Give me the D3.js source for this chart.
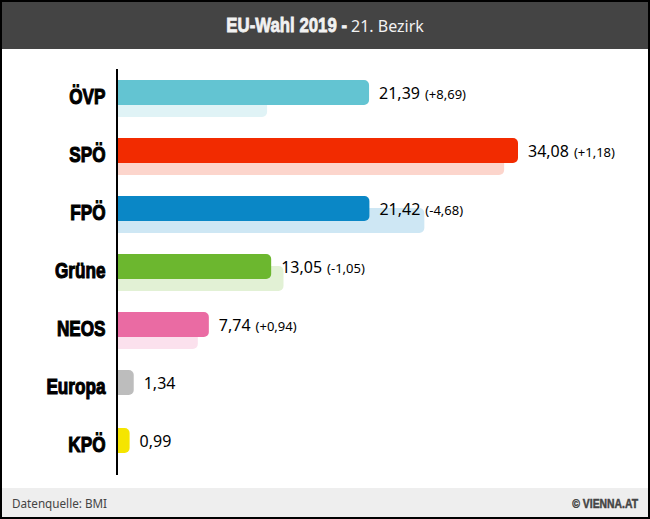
<!DOCTYPE html>
<html><head><meta charset="utf-8">
<script src="https://cdn.jsdelivr.net/npm/d3@7"></script>
<style>html,body{margin:0;padding:0;background:#fff}svg{display:block}</style>
</head><body><svg id="c" width="650" height="519"></svg>
<script>
const parties=["ÖVP","SPÖ","FPÖ","Grüne","NEOS","Europa","KPÖ"];
const values=[21.39,34.08,21.42,13.05,7.74,1.34,0.99];
const previous=[12.70,32.90,26.10,14.10,6.80,null,null];
const valueLabels=["21,39","34,08","21,42","13,05","7,74","1,34","0,99"];
const diffLabels=["(+8,69)","(+1,18)","(-4,68)","(-1,05)","(+0,94)","",""];
const colors=["#63c4d2","#f22b00","#0a87c6","#6cb72f","#ea6ba3","#bdbdbd","#f5e500"];

const svg=d3.select("#c");
const heavy="'Liberation Sans',sans-serif";
const body="'Noto Sans','Open Sans',sans-serif";
svg.append("rect").attr("width",650).attr("height",519).attr("fill","#000");
svg.append("rect").attr("x",2).attr("y",2).attr("width",646).attr("height",515).attr("fill","#fff");
svg.append("rect").attr("x",2).attr("y",2).attr("width",646).attr("height",47).attr("fill","#444");
svg.append("rect").attr("x",2).attr("y",488).attr("width",646).attr("height",29).attr("fill","#eee");

svg.append("text").attr("transform","translate(347,32) scale(.8,1)").attr("text-anchor","end")
 .attr("font-family",heavy).attr("font-weight",700).attr("font-size",21).attr("fill","#f2f2f2").attr("stroke","#f2f2f2").attr("stroke-width",.8).text("EU-Wahl 2019 -");
svg.append("text").attr("x",351).attr("y",32).attr("font-family",body).attr("font-size",16).attr("fill","#f2f2f2").text("21. Bezirk");

const x=d3.scaleLinear().domain([0,34.08]).range([118,518]);
const y=d3.scaleBand().domain(parties).range([69,475]);
const barH=25,subShift=12,off=11;
const roundRight=(x0,x1,top,h,r)=>{const c=d3.path();const rr=Math.min(r,x1-x0);
 c.moveTo(x0,top);c.lineTo(x1-rr,top);c.arcTo(x1,top,x1,top+rr,rr);c.lineTo(x1,top+h-rr);c.arcTo(x1,top+h,x1-rr,top+h,rr);c.lineTo(x0,top+h);c.closePath();return c.toString();};
const idx=parties.map((_,i)=>i);

svg.append("g").selectAll("path").data(idx.filter(i=>previous[i]!=null)).join("path")
 .attr("d",i=>roundRight(x(0),x(previous[i]),y(parties[i])+off+subShift,barH,5))
 .attr("fill",i=>colors[i]).attr("opacity",.2);
svg.append("g").selectAll("path").data(idx).join("path")
 .attr("d",i=>roundRight(x(0),x(values[i]),y(parties[i])+off,barH,5)).attr("fill",i=>colors[i]);

svg.append("line").attr("x1",117).attr("x2",117).attr("y1",69).attr("y2",475).attr("stroke","#000").attr("stroke-width",2);

svg.append("g").selectAll("text").data(idx).join("text")
 .attr("transform",i=>`translate(105.5,${y(parties[i])+off+barH/2+11.5}) scale(.78,1)`).attr("text-anchor","end")
 .attr("font-family",heavy).attr("font-weight",700).attr("font-size",22).attr("stroke","#000").attr("stroke-width",1.1)
 .attr("fill","#000").text(i=>parties[i]);

const lab=svg.append("g").selectAll("text").data(idx).join("text")
 .attr("x",i=>x(values[i])+10).attr("y",i=>y(parties[i])+off+barH/2+6).attr("fill","#000");
lab.append("tspan").attr("font-family",body).attr("font-size",16).text(i=>valueLabels[i]);
lab.append("tspan").attr("font-family",body).attr("font-size",13).attr("dx",5).text(i=>diffLabels[i]);

svg.append("text").attr("x",12).attr("y",508).attr("font-family",body).attr("font-size",11.7).attr("fill","#444").text("Datenquelle: BMI");
svg.append("text").attr("transform","translate(638,508) scale(.77,1)").attr("text-anchor","end").attr("font-family",heavy).attr("font-weight",700).attr("font-size",13.5).attr("stroke","#444").attr("stroke-width",.5).attr("fill","#444").text("© VIENNA.AT");
</script></body></html>
